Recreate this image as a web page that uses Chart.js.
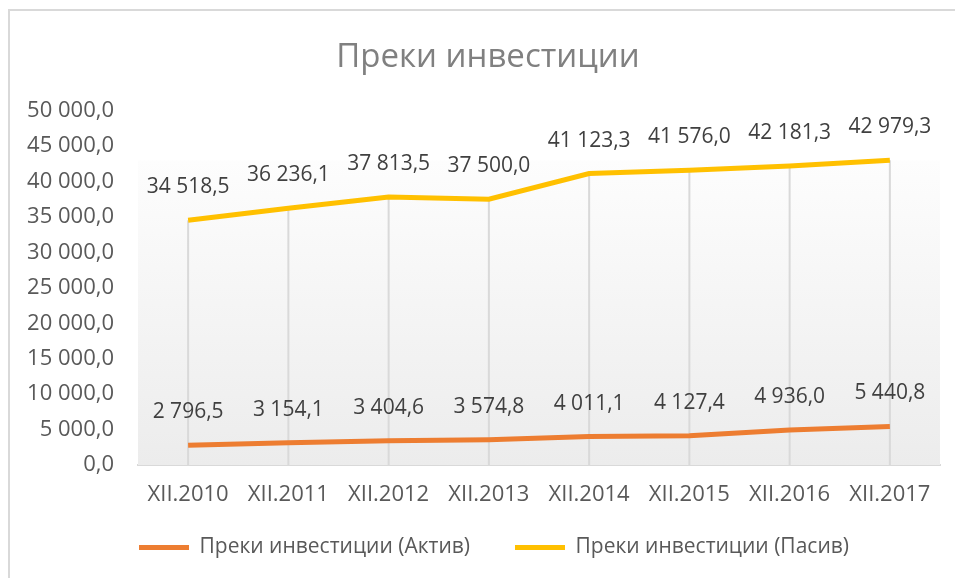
<!DOCTYPE html>
<html>
<head>
<meta charset="utf-8">
<script src="https://cdn.jsdelivr.net/npm/chart.js@4.4.1/dist/chart.umd.min.js"></script>
<style>
  html, body { margin: 0; padding: 0; background: #fff; }
  #wrap { position: relative; width: 955px; height: 578px; overflow: hidden; }
  #frame { position: absolute; left: 8px; top: 9px; width: 960px; height: 600px;
           border-left: 2px solid #d9d9d9; border-top: 2px solid #d9d9d9; }
  canvas { position: absolute; left: 0; top: 0; }
</style>
</head>
<body>
<div id="wrap">
  <div id="frame"></div>
  <canvas id="myChart" width="955" height="578"></canvas>
</div>
<script>
const labels = ["XII.2010", "XII.2011", "XII.2012", "XII.2013", "XII.2014", "XII.2015", "XII.2016", "XII.2017"];
const aktiv = [2796.5, 3154.1, 3404.6, 3574.8, 4011.1, 4127.4, 4936.0, 5440.8];
const pasiv = [34518.5, 36236.1, 37813.5, 37500.0, 41123.3, 41576.0, 42181.3, 42979.3];
const seriesNames = ["Преки инвестиции (Актив)", "Преки инвестиции (Пасив)"];

const fontName = "'Open Sans', sans-serif";
const textGray = "#595959";

// 50000 -> "50 000,0"
const fmt = (v) => {
    let parts = Number(v).toFixed(1).split(".");
    let int = parts[0].replace(/\B(?=(\d{3})+(?!\d))/g, " ");
    return int + "," + parts[1];
};

// nudge title and legend to sit where they were in the original
const shiftBoxes = {
    id: "shiftBoxes",
    afterLayout(chart) {
        chart.titleBlock.left += 6;
        chart.titleBlock.right += 6;
        chart.legend.left += 12;
        chart.legend.right += 12;
        chart.legend.top -= 21;
        chart.legend.bottom = chart.height;
    }
};

const plotBack = {
    id: "plotBack",
    beforeDatasetsDraw(chart) {
        const { ctx, chartArea, scales } = chart;
        let top = scales.y.getPixelForValue(Math.max(...pasiv, ...aktiv));
        let grad = ctx.createLinearGradient(0, top, 0, chartArea.bottom);
        grad.addColorStop(0, "#fdfdfd");
        grad.addColorStop(1, "#ececec");
        ctx.save();
        ctx.fillStyle = grad;
        ctx.fillRect(chartArea.left, top, chartArea.right - chartArea.left, chartArea.bottom - top);
        // drop lines from the upper series down to the axis
        ctx.strokeStyle = "#d9d9d9";
        ctx.lineWidth = 2;
        chart.getDatasetMeta(1).data.forEach((pt) => {
            ctx.beginPath();
            ctx.moveTo(pt.x, pt.y);
            ctx.lineTo(pt.x, chartArea.bottom);
            ctx.stroke();
        });
        ctx.restore();
    }
};

const valueLabels = {
    id: "valueLabels",
    afterDatasetsDraw(chart) {
        const ctx = chart.ctx;
        ctx.save();
        ctx.font = "21px " + fontName;
        ctx.fillStyle = "#404040";
        ctx.textAlign = "center";
        ctx.textBaseline = "middle";
        chart.data.datasets.forEach((ds, i) => {
            chart.getDatasetMeta(i).data.forEach((pt, j) => {
                ctx.fillText(fmt(ds.data[j]), pt.x, pt.y - 33);
            });
        });
        ctx.restore();
    }
};

const ctx = document.getElementById("myChart");
new Chart(ctx, {
    type: "line",
    data: {
        labels: labels,
        datasets: [{
            label: seriesNames[0],
            data: aktiv,
            borderColor: "#ED7D31",
            backgroundColor: "#ED7D31",
            borderWidth: 5,
            pointRadius: 0,
            fill: false
        }, {
            label: seriesNames[1],
            data: pasiv,
            borderColor: "#FFC000",
            backgroundColor: "#FFC000",
            borderWidth: 5,
            pointRadius: 0,
            fill: false
        }]
    },
    options: {
        responsive: false,
        animation: false,
        layout: { padding: { left: 24, right: 15, top: 0, bottom: 5 } },
        plugins: {
            title: {
                display: true,
                text: "Преки инвестиции",
                color: "#808080",
                font: { family: fontName, size: 33, weight: "normal" },
                padding: { top: 38, bottom: 33 }
            },
            legend: {
                position: "bottom",
                maxHeight: 60,
                labels: {
                    color: textGray,
                    font: { family: fontName, size: 21 },
                    boxWidth: 50,
                    boxHeight: 5,
                    padding: 45,
                    generateLabels: (chart) => chart.data.datasets.map((ds, i) => ({
                        text: ds.label,
                        fillStyle: ds.borderColor,
                        strokeStyle: ds.borderColor,
                        lineWidth: 0,
                        fontColor: textGray,
                        datasetIndex: i
                    }))
                }
            },
            tooltip: { enabled: false }
        },
        scales: {
            x: {
                offset: true,
                grid: { display: false, drawTicks: false },
                border: { display: true, color: "#d9d9d9", width: 2 },
                ticks: { color: textGray, font: { family: fontName, size: 22 }, padding: 17, maxRotation: 0 },
                afterFit: (scale) => { scale.height = 48; }
            },
            y: {
                min: 0,
                max: 50000,
                grid: { display: false, drawTicks: false },
                border: { display: false },
                ticks: { stepSize: 5000, color: textGray, font: { family: fontName, size: 22 }, padding: 24,
                         callback: (v) => fmt(v) },
                afterFit: (scale) => { scale.width = 114; }
            }
        }
    },
    plugins: [shiftBoxes, plotBack, valueLabels]
});
</script>
</body>
</html>
